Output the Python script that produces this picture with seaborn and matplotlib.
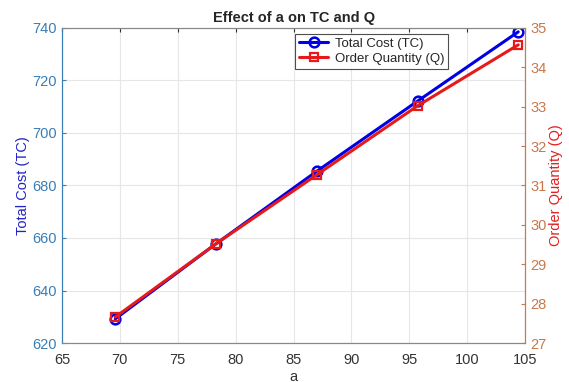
import matplotlib
matplotlib.use("Agg")
import matplotlib.pyplot as plt
import seaborn as sns
import pandas as pd

a_values = [69.6, 78.3, 87.0, 95.7, 104.4]
total_cost = [629.2, 657.8, 685.4, 712.1, 738.5]
order_qty = [27.66, 29.52, 31.27, 33.02, 34.57]
x_ticks = [65, 70, 75, 80, 85, 90, 95, 100, 105]
left_ticks = [620, 640, 660, 680, 700, 720, 740]
right_ticks = [27, 28, 29, 30, 31, 32, 33, 34, 35]

sns.set_style("white")
plt.rcParams['font.family'] = ['Liberation Sans', 'DejaVu Sans']

df = pd.DataFrame({"a": a_values, "TC": total_cost, "Q": order_qty})

fig = plt.figure(figsize=(5.69, 3.82), dpi=100)
ax = fig.add_axes([0.109, 0.102, 0.814, 0.825])
ax2 = ax.twinx()

left_col = "#3a7db5"
right_col = "#c8784a"

sns.lineplot(data=df, x="a", y="TC", ax=ax, color="#0000e6", marker="o",
             markersize=7, markerfacecolor="none", markeredgecolor="#0000e6",
             markeredgewidth=1.8, linewidth=2.2, label="Total Cost (TC)", legend=False)
sns.lineplot(data=df, x="a", y="Q", ax=ax2, color="#e61a1a", marker="s",
             markersize=6, markerfacecolor="none", markeredgecolor="#e61a1a",
             markeredgewidth=1.6, linewidth=2.2, label="Order Quantity (Q)", legend=False)

ax.set_xlim(65, 105)
ax.set_ylim(620, 740)
ax2.set_ylim(27, 35)
ax.set_xticks(x_ticks)
ax.set_yticks(left_ticks)
ax2.set_yticks(right_ticks)

ax.grid(True, color="#e6e6e6", linewidth=0.8)
ax.set_axisbelow(True)

ax.set_xlabel("a", fontsize=10.5, color="#333333", labelpad=2)
ax.set_ylabel("Total Cost (TC)", fontsize=10.5, color="#2222c8", labelpad=2)
ax2.set_ylabel("Order Quantity (Q)", fontsize=10.5, color="#e02020", labelpad=2)
ax.set_title("Effect of a on TC and Q", fontsize=10.5, fontweight="bold", pad=4)

ax.tick_params(axis="x", colors="#333333", labelsize=10.5, direction="in", length=3, top=True, pad=7)
ax.tick_params(axis="y", colors=left_col, labelsize=10.5, direction="in", length=3)
ax2.tick_params(axis="y", colors=right_col, labelsize=10.5, direction="in", length=3)

for s in ["bottom", "top"]:
    ax.spines[s].set_color("#888888")
    ax2.spines[s].set_color("#888888")
ax.spines["left"].set_color(left_col)
ax2.spines["left"].set_color(left_col)
ax2.spines["right"].set_color(right_col)
ax.spines["right"].set_color(right_col)
for sp in list(ax.spines.values()) + list(ax2.spines.values()):
    sp.set_linewidth(0.8)

h1, lab1 = ax.get_legend_handles_labels()
h2, lab2 = ax2.get_legend_handles_labels()
leg = ax2.legend(h1 + h2, lab1 + lab2, loc="upper right", bbox_to_anchor=(0.84, 0.99),
                 fontsize=9.5, frameon=True, fancybox=False, edgecolor="#222222",
                 borderpad=0.3, handlelength=2.2, handletextpad=0.5,
                 labelspacing=0.2, borderaxespad=0.2)
leg.get_frame().set_linewidth(0.8)

fig.savefig("out.png", dpi=100)
